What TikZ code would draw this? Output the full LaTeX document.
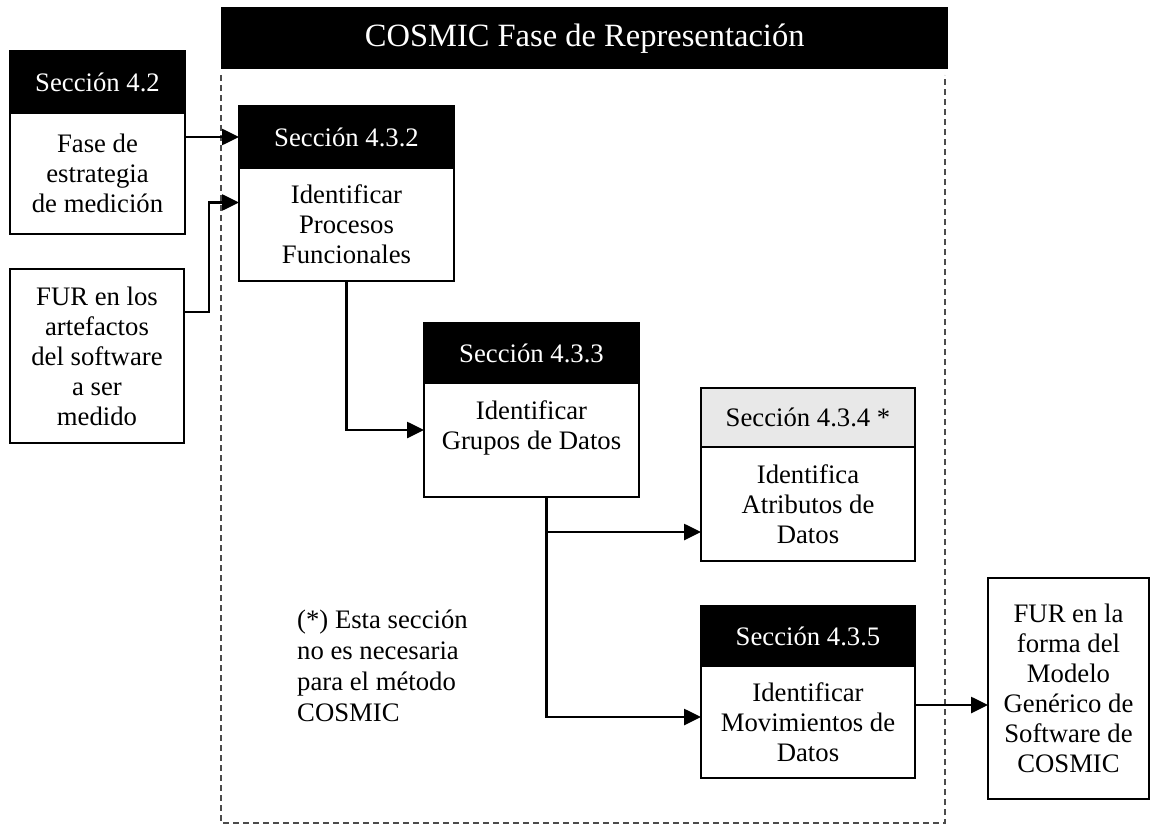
\documentclass[tikz,border=0pt]{standalone}
\usepackage{fontspec}
\setmainfont{Liberation Serif}
\usetikzlibrary{positioning,arrows.meta,calc}

\tikzset{
  every node/.style={font=\fontsize{26.7}{30}\selectfont},
  box/.style={draw, line width=2.8pt, outer sep=0pt, inner sep=0pt, align=center, fill=white},
  head/.style={box, fill=black, text=white},
  grayhead/.style={box, fill=gray!18},
  flow/.style={line width=2.6pt, -{Triangle[length=17pt,width=16pt]}},
  frame/.style={dash pattern=on 6pt off 4pt, line width=1.5pt, black!70},
}

\begin{document}
\begin{tikzpicture}[x=1pt,y=-1pt]
  \useasboundingbox (0,0) rectangle (1155,826);

  % marco de la fase
  \draw[frame] (221,75) -- (221,823) -- (945,823) -- (945,75);
  \node[fill=black, text=white, anchor=north west, minimum width=727pt, minimum height=62pt,
        inner sep=0pt, font=\fontsize{32.5}{35}\selectfont] (titulo) at (221,7) {COSMIC Fase de Representación};

  % entradas
  \node[head, anchor=north west, minimum width=175pt, minimum height=62pt] (sec42h) at (10,51) {Sección 4.2};
  \node[box, below=0pt of sec42h, minimum width=175pt, minimum height=121pt] (sec42b) {Fase de\\estrategia\\de medición};
  \node[box, anchor=north west, minimum width=174pt, minimum height=174pt] (fur) at (10,269) {FUR en los\\artefactos\\del software\\a ser\\medido};

  % pasos
  \node[head, anchor=north west, minimum width=215pt, minimum height=62pt] (sec432h) at (239,106) {Sección 4.3.2};
  \node[box, below=0pt of sec432h, minimum width=215pt, minimum height=113pt] (sec432b) {Identificar\\Procesos\\Funcionales};

  \node[head, anchor=north west, minimum width=215pt, minimum height=60pt] (sec433h) at (424,323) {Sección 4.3.3};
  \node[box, below=0pt of sec433h, minimum width=215pt, minimum height=114pt] (sec433b) {Identificar\\Grupos de Datos\\\mbox{}};

  \node[grayhead, anchor=north west, minimum width=214pt, minimum height=59pt] (sec434h) at (701,388) {Sección 4.3.4 *};
  \node[box, below=0pt of sec434h, minimum width=214pt, minimum height=114pt] (sec434b) {Identifica\\Atributos de\\Datos};

  \node[head, anchor=north west, minimum width=214pt, minimum height=60pt] (sec435h) at (701,606) {Sección 4.3.5};
  \node[box, below=0pt of sec435h, minimum width=214pt, minimum height=112pt] (sec435b) {Identificar\\Movimientos de\\Datos};

  % salida
  \node[box, anchor=north west, minimum width=161pt, minimum height=221pt] (salida) at (988,578) {FUR en la\\forma del\\Modelo\\Genérico de\\Software de\\COSMIC};

  \node[anchor=north west, align=left, inner sep=0pt, font=\fontsize{26.7}{31}\selectfont] (nota) at (297,610) {(*) Esta sección\\no es necesaria\\para el método\\COSMIC};

  % flechas
  \draw[flow] (sec42b.east |- sec432h.west) -- (sec432h.west);
  \draw[flow] ([yshift=44pt]fur.east) -- ++(25,0) |- ([yshift=22pt]sec432b.west);
  \draw[flow] (sec432b.south) |- ([yshift=10pt]sec433b.west);
  \coordinate (split) at ([xshift=15pt]sec433b.south);
  \draw[flow] (split) |- ([yshift=-28pt]sec434b.west);
  \draw[flow] (split) |- ([yshift=5pt]sec435b.west);
  \draw[flow] ([yshift=17pt]sec435b.east) -- ([yshift=17pt]sec435b.east -| salida.west);
\end{tikzpicture}
\end{document}
